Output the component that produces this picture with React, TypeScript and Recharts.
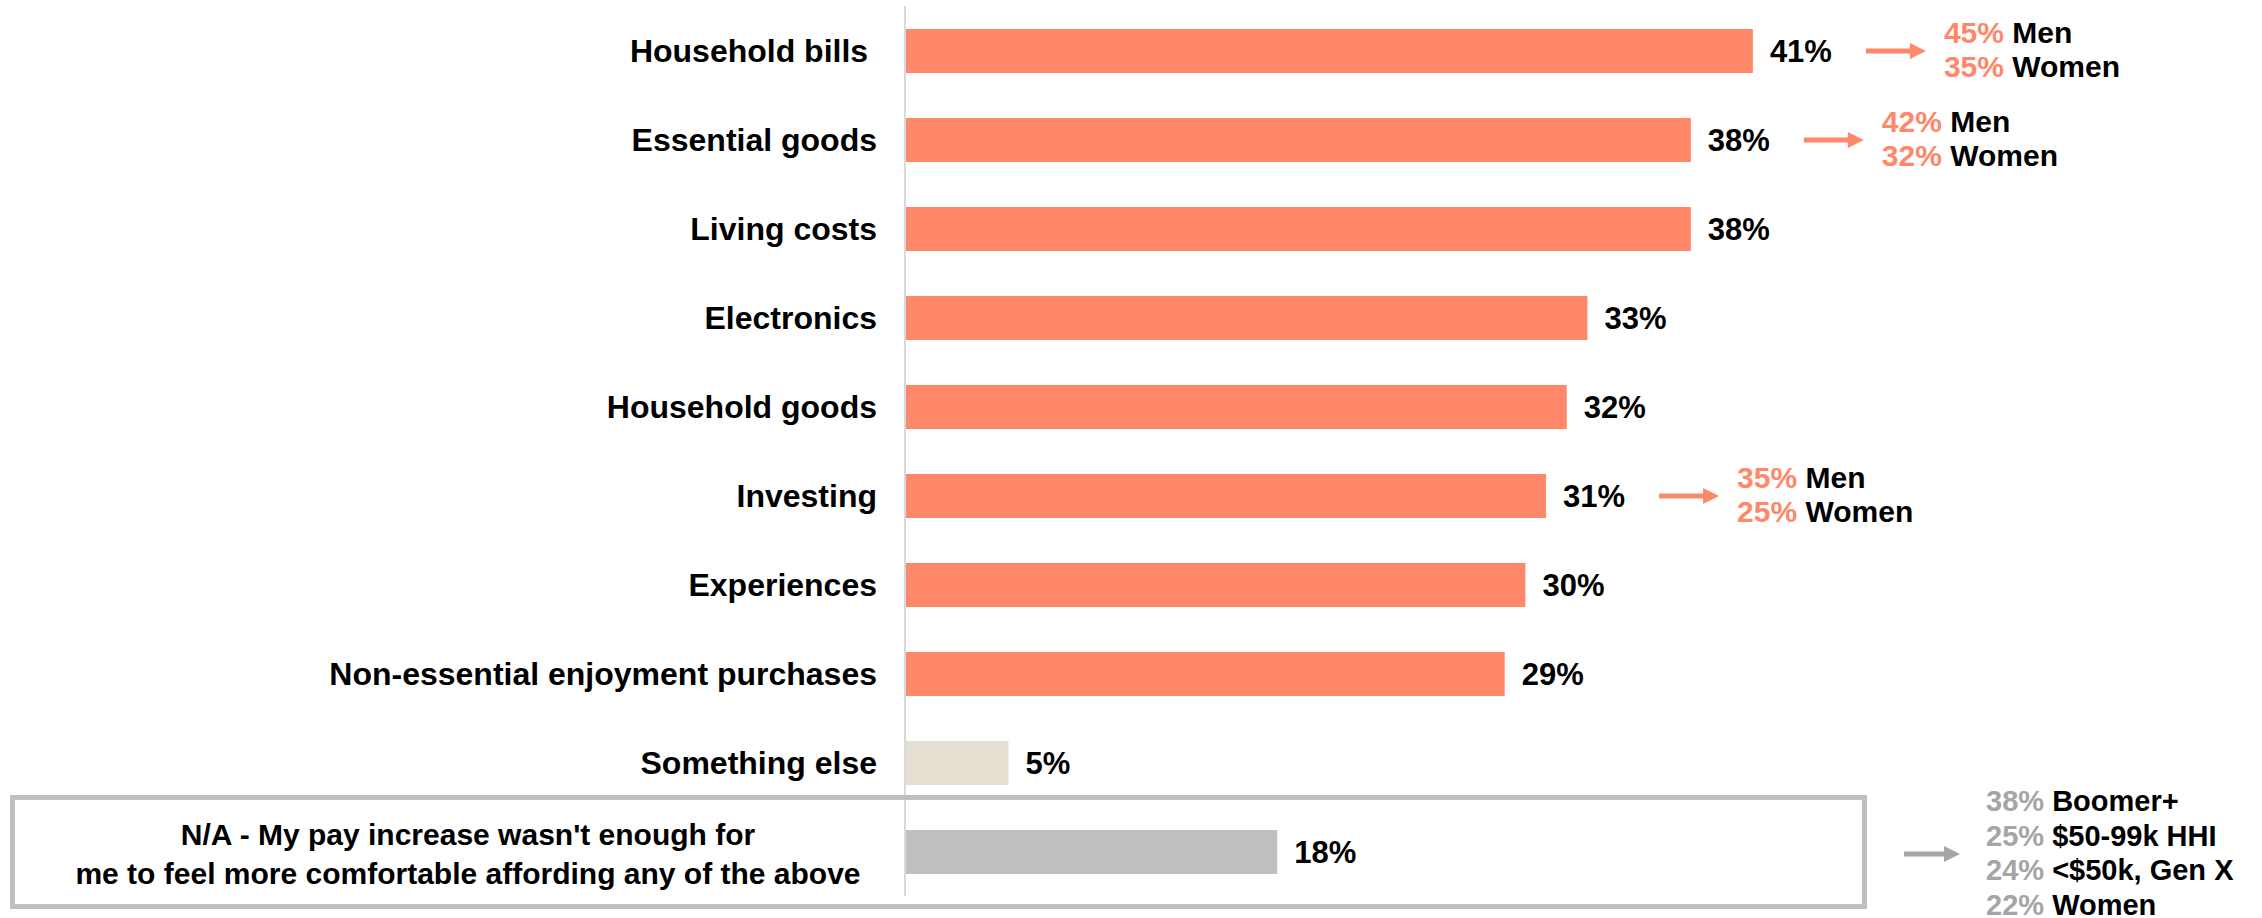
import { Bar, BarChart, Cell, LabelList, XAxis, YAxis } from 'recharts';

const NA_LABEL = "N/A - My pay increase wasn't enough for\nme to feel more comfortable affording any of the above";

const categories = [
  'Household bills\u00a0',
  'Essential goods',
  'Living costs',
  'Electronics',
  'Household goods',
  'Investing',
  'Experiences',
  'Non-essential enjoyment purchases',
  'Something else',
  NA_LABEL,
];
const values = [41, 38, 38, 33, 32, 31, 30, 29, 5, 18];

// gender split callouts
const splitCategories = ['Household bills\u00a0', 'Essential goods', 'Investing'];
const menShare = [45, 42, 35];
const womenShare = [35, 32, 25];

// callout for the N/A row
const naGroups = ['Boomer+', '$50-99k HHI', '<$50k, Gen X', 'Women'];
const naShares = [38, 25, 24, 22];

const data = categories.map((name, i) => ({ name, value: values[i] }));

const ORANGE = '#ff886a';
const FONT = '"Liberation Sans", Arial, sans-serif';

function barColor(name: string) {
  if (name === NA_LABEL) return '#bebfc1';
  if (name === 'Something else') return '#e4dfd0';
  return ORANGE;
}

function Arrow({ x, y, len, color }: { x: number; y: number; len: number; color: string }) {
  const head = 16;
  const d = `M${x},${y - 2.5} L${x + len - head},${y - 2.5} L${x + len - head},${y - 8} L${x + len},${y} L${x + len - head},${y + 8} L${x + len - head},${y + 2.5} L${x},${y + 2.5} Z`;
  return <path d={d} fill={color} />;
}

function CategoryTick(props: any) {
  const { x, y, payload } = props;
  const label: string = payload.value;
  if (label === NA_LABEL) {
    const lines = label.split('\n');
    return (
      <text x={470} y={y} textAnchor="middle" fontFamily={FONT} fontWeight="bold" fontSize={30} fill="#000">
        {lines.map((l, i) => (
          <tspan key={i} x={468} y={y + 2 + (i - 0.5) * 39} dy="0.35em">
            {l}
          </tspan>
        ))}
      </text>
    );
  }
  return (
    <text x={x} y={y} dy="0.35em" textAnchor="end" fontFamily={FONT} fontWeight="bold" fontSize={32} fill="#000" xmlSpace="preserve">
      {label}
    </text>
  );
}

function ValueLabel(props: any) {
  const { x, y, width, height, value, index } = props;
  const endX = Number(x) + Number(width);
  const cy = Number(y) + Number(height) / 2;
  const name = categories[index];
  const split = splitCategories.indexOf(name);
  return (
    <g>
      <text x={endX + 17} y={cy} dy="0.35em" fontFamily={FONT} fontWeight="bold" fontSize={31} fill="#000">
        {value}%
      </text>
      {split >= 0 && (
        <g>
          <Arrow x={endX + 113} y={cy} len={60} color={ORANGE} />
          <text fontFamily={FONT} fontWeight="bold" fontSize={30}>
            <tspan x={endX + 191} y={cy - 19} dy="0.35em" fill={ORANGE}>{menShare[split]}%</tspan>
            <tspan fill="#000"> Men</tspan>
          </text>
          <text fontFamily={FONT} fontWeight="bold" fontSize={30}>
            <tspan x={endX + 191} y={cy + 15} dy="0.35em" fill={ORANGE}>{womenShare[split]}%</tspan>
            <tspan fill="#000"> Women</tspan>
          </text>
        </g>
      )}
      {name === NA_LABEL && (
        <g>
          <Arrow x={1904} y={cy + 2} len={56} color="#a5a5a5" />
          {naGroups.map((g, i) => (
            <text key={g} fontFamily={FONT} fontWeight="bold" fontSize={29}>
              <tspan x={1986} y={cy + 1 + (i - 1.5) * 34.5} dy="0.35em" fill="#a5a5a5">{naShares[i]}%</tspan>
              <tspan fill="#000"> {g}</tspan>
            </text>
          ))}
        </g>
      )}
    </g>
  );
}

export default function App() {
  return (
    <div style={{ position: 'absolute', left: 0, top: 0, width: 2262, height: 918, background: '#fff' }}>
      <BarChart
        width={2262}
        height={918}
        data={data}
        layout="vertical"
        margin={{ top: 6, right: 323, bottom: 22, left: 0 }}
      >
        <XAxis type="number" domain={[0, 50]} hide />
        <YAxis
          type="category"
          dataKey="name"
          width={905}
          tickLine={false}
          tickSize={0}
          tickMargin={28}
          axisLine={{ stroke: '#d9d9d9', strokeWidth: 2 }}
          tick={<CategoryTick />}
          interval={0}
        />
        <Bar dataKey="value" barSize={44} isAnimationActive={false}>
          {data.map((d) => (
            <Cell key={d.name} fill={barColor(d.name)} />
          ))}
          <LabelList dataKey="value" content={<ValueLabel />} />
        </Bar>
      </BarChart>
      <div
        style={{
          position: 'absolute',
          left: 10,
          top: 795,
          width: 1857,
          height: 114,
          border: '5px solid #bfbfbf',
          boxSizing: 'border-box',
          pointerEvents: 'none',
        }}
      />
    </div>
  );
}
